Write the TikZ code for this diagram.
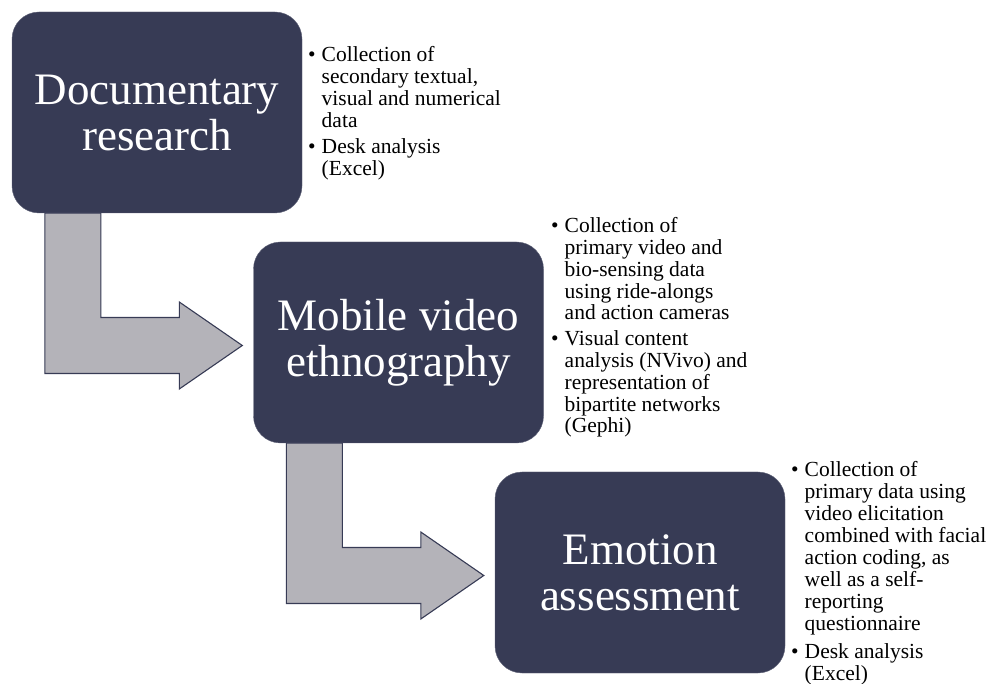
\documentclass[tikz,border=0pt]{standalone}
\usepackage{fontspec}
\setmainfont{Liberation Serif}
\usetikzlibrary{calc,backgrounds}

\definecolor{boxnavy}{RGB}{55,59,85}
\definecolor{arrowgray}{RGB}{180,179,185}

\tikzset{
  stage/.style={fill=boxnavy, draw=boxnavy!80!white, rounded corners=27pt,
    minimum width=290pt, minimum height=201pt, inner sep=0pt,
    text=white, align=center, font=\fontsize{45}{46}\selectfont},
  flow/.style={fill=arrowgray, draw=boxnavy, line width=1.1pt, line join=miter},
  notes/.style={anchor=base west, inner sep=0pt, font=\fontsize{21.5}{21.7}\selectfont},
}

% bent block arrow: leaves the bottom of stage #1, points into stage #2
\newcommand\bentarrow[2]{%
  \path ($(#2.west)+(-11,3)$) coordinate (tip);
  \draw[flow] ($(#1.south west)+(33,0)$) -- ($(#1.south west)+(89,0)$)
    |- ($(tip)+(-63,-28)$) -- ($(tip)+(-63,-43.5)$) -- (tip)
    -- ($(tip)+(-63,43.5)$) -- ($(tip)+(-63,28)$)
    -| ($(#1.south west)+(33,0)$) -- cycle;
}

\begin{document}
\begin{tikzpicture}[x=1pt,y=-1pt]
  \useasboundingbox (0,0) rectangle (991,684);

  % STAGES
  \node[stage] (doc) at (157,112.5) {Documentary\\research};
  \node[stage] (video) at (398.5,342.5) {Mobile video\\ethnography};
  \node[stage] (emotion) at (640,572.5) {Emotion\\assessment};

  % ARROWS
  \begin{scope}[on background layer]
    \bentarrow{doc}{video}
    \bentarrow{video}{emotion}
  \end{scope}

  % NOTES
  \node[notes] (docnotes) at (308,62) {%
    \begin{tabular}[t]{@{}l@{\hspace{6pt}}l@{}}
      \textbullet & Collection of\\
                  & secondary textual,\\
                  & visual and numerical\\
                  & data\\[5pt]
      \textbullet & Desk analysis\\
                  & (Excel)
    \end{tabular}};

  \node[notes] (videonotes) at (551,233) {%
    \begin{tabular}[t]{@{}l@{\hspace{6pt}}l@{}}
      \textbullet & Collection of\\
                  & primary video and\\
                  & bio-sensing data\\
                  & using ride-alongs\\
                  & and action cameras\\[4.5pt]
      \textbullet & Visual content\\
                  & analysis (NVivo) and\\
                  & representation of\\
                  & bipartite networks\\
                  & (Gephi)
    \end{tabular}};

  \node[notes, font=\fontsize{21.5}{22.1}\selectfont] (emotionnotes) at (791,476) {%
    \begin{tabular}[t]{@{}l@{\hspace{6pt}}l@{}}
      \textbullet & Collection of\\
                  & primary data using\\
                  & video elicitation\\
                  & combined with facial\\
                  & action coding, as\\
                  & well as a self-\\
                  & reporting\\
                  & questionnaire\\[6pt]
      \textbullet & Desk analysis\\
                  & (Excel)
    \end{tabular}};
\end{tikzpicture}
\end{document}
